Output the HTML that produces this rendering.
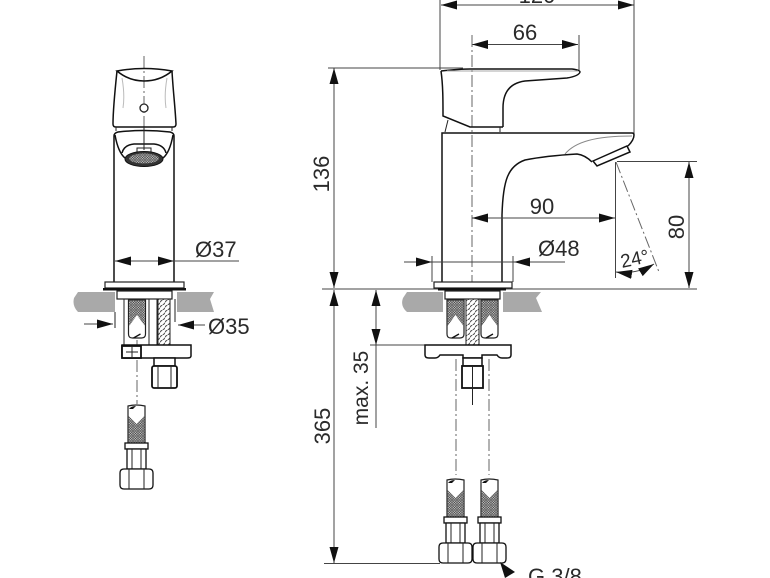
<!DOCTYPE html>
<html><head><meta charset="utf-8">
<style>
html,body{margin:0;padding:0;background:#fff;width:770px;height:578px;overflow:hidden}
svg{display:block;filter:blur(.3px)}
text{font-family:"Liberation Sans",sans-serif;font-size:22px;fill:#2a2a2a}
.d{stroke:#444;stroke-width:1;fill:none}
.k{stroke:#111;stroke-width:1.5;fill:none}
.kf{stroke:#111;stroke-width:1.3;fill:#fff}
.t{stroke:#222;stroke-width:1;fill:none}
.c{stroke:#666;stroke-width:1;fill:none;stroke-dasharray:12 3 2 3}
.g{fill:#a9a9a9}
</style></head><body>
<svg width="770" height="578" viewBox="0 0 770 578" xmlns="http://www.w3.org/2000/svg">
<defs>
<marker id="a" markerUnits="userSpaceOnUse" markerWidth="17" markerHeight="10" refX="16" refY="4.500" orient="auto-start-reverse"><path d="M0 0L16 4.500L0 9Z" fill="#111"/></marker>
<pattern id="x" width="2.500" height="2.500" patternUnits="userSpaceOnUse"><rect width="2.500" height="2.500" fill="#c4c4c4"/><path d="M0 0L2.500 2.500M2.500 0L0 2.500" stroke="#444" stroke-width=".6"/></pattern>
<pattern id="h" width="5" height="5" patternUnits="userSpaceOnUse"><rect width="5" height="5" fill="#fff"/><path d="M-1 3L3 -1M2 6L6 2" stroke="#555" stroke-width="1.100"/></pattern>
<g id="hoseLow">
<path d="M0 0Q8 -2 17 0V37H0Z" fill="#fff" stroke="#222" stroke-width="1.200"/>
<path d="M0.600 37V10L8.500 18L16.400 10V37Z" fill="url(#x)"/>
<path d="M1 3Q3 0 8 0L5 3H1Z" fill="#111"/>
<rect x="-3" y="37" width="23" height="6" class="kf"/>
<rect x="-1" y="43" width="19" height="20" class="kf"/>
<path d="M4 43V63M13 43V63" class="t"/>
<path d="M-8 67Q-8 63 -4 63H21Q25 63 25 67V79Q25 83 21 83H-4Q-8 83 -8 79Z" class="kf"/>
<path d="M1 63V83M16 63V83" class="t"/>
</g>
<g id="hoseUp">
<path d="M0 0H17V34Q17 38 13 38H4Q0 38 0 34Z" fill="#fff" stroke="#222" stroke-width="1.200"/>
<path d="M0.600 0.600H16.400V26L8.500 15L0.600 26Z" fill="url(#x)"/>
<path d="M5 38L12 34" stroke="#111" stroke-width="1.300"/>
</g>
</defs>

<!-- LEFT VIEW -->
<path class="c" d="M144 56V126"/>
<path class="c" d="M137 340V404" />
<path class="k" d="M117 71C115 90 113 110 113 124Q113 127 116 127H173Q176 127 176 124C175 105 173 90 172 71"/>
<path class="k" d="M117 71Q144 66 172 71Q160 81 144 81Q129 81 117 71Z"/>
<path d="M122 78Q125 95 123 108M167 78Q164 95 166 108" stroke="#bbb" stroke-width="1" fill="none"/>
<circle cx="144" cy="108" r="4" fill="#fff" stroke="#222" stroke-width="1.300"/>
<path class="t" d="M116 127V131M172 127V131"/>
<path class="k" d="M114 282V136Q114 133 118 132Q144 129 170 132Q174 133 174 136V282"/>
<path class="k" d="M115 135C117 146 120 154 125 158M173 135C171 146 168 154 163 158"/>
<path class="k" d="M122 153Q124 145 134 144H154Q164 145 166 153"/>
<rect x="137" y="148" width="14" height="4" fill="#fff" stroke="#222"/>
<ellipse cx="144" cy="159" rx="19" ry="7.500" fill="#333" stroke="#111"/>
<ellipse cx="144" cy="158.500" rx="15" ry="5" fill="url(#x)"/>
<path class="t" d="M144 126V150"/>
<path class="d" marker-start="url(#a)" marker-end="url(#a)" d="M115 261H174"/>
<path class="d" d="M174 261H239"/>
<text x="195" y="257">Ø37</text>
<rect x="105" y="282" width="79" height="6" fill="#fff" stroke="#222" stroke-width="1.200"/>
<rect x="103" y="288" width="83" height="2.500" fill="#111"/>
<path class="g" d="M78 292H115V312H78Q72 306 74 298Z"/>
<path class="g" d="M177 292H214L210 299L214 312H177Z"/>
<rect x="117" y="291" width="55" height="8" fill="#fff" stroke="#222" stroke-width="1.200"/>
<path class="t" d="M115 312V328M124 299V345M149 299V345M175 299V322M157 299V345"/>
<use href="#hoseUp" x="128.500" y="300"/>
<rect x="158" y="299" width="12" height="46" fill="url(#h)" stroke="#222"/>
<path d="M122 345H191V356Q191 358 187 358H124Q122 358 122 356Z" fill="#fff" stroke="#111" stroke-width="1.500"/>
<rect x="122" y="346" width="19" height="12" fill="#fff" stroke="#111" stroke-width="1.800"/>
<path class="t" d="M126 352H138M132 346V358"/>
<rect x="154" y="358" width="21" height="8" fill="#fff" stroke="#111" stroke-width="1.500"/>
<rect x="152" y="366" width="25" height="22" rx="2" fill="#fff" stroke="#111" stroke-width="1.800"/>
<path class="t" d="M158 366V388M171 366V388"/>
<path class="d" marker-end="url(#a)" d="M84 324H113"/>
<path class="d" marker-end="url(#a)" d="M205 325H178"/>
<text x="208" y="334">Ø35</text>
<use href="#hoseLow" x="128" y="406"/>

<!-- RIGHT VIEW dims -->
<path class="d" d="M440 0V70M634 0V134M579 35V70"/>
<path class="d" marker-start="url(#a)" marker-end="url(#a)" d="M441 5H634"/>
<text x="537" y="3" text-anchor="middle">120</text>
<path class="d" marker-start="url(#a)" marker-end="url(#a)" d="M472 44.500H578"/>
<text x="525" y="40" text-anchor="middle">66</text>
<path class="c" d="M472 35V288"/>
<path class="d" d="M328 68H463"/>
<path class="d" marker-start="url(#a)" marker-end="url(#a)" d="M334 68V288"/>
<text transform="translate(329,174) rotate(-90)" text-anchor="middle">136</text>
<path class="d" d="M322 289H697"/>
<path class="d" marker-start="url(#a)" marker-end="url(#a)" d="M334 290V563"/>
<text transform="translate(330,426) rotate(-90)" text-anchor="middle">365</text>
<path class="d" d="M324 563.500H440"/>
<path class="d" marker-start="url(#a)" marker-end="url(#a)" d="M376 290V345"/>
<path class="d" d="M370 345H425M376 345V428"/>
<text transform="translate(368,388) rotate(-90)" text-anchor="middle" style="font-size:21px">max. 35</text>

<!-- handle -->
<path class="k" d="M441 71Q460 69 470 69H572Q580 70 580 72Q579 76 567 78L525 81C510 83 503 92 503 108V127"/>
<path class="k" d="M441 71C443 85 443 100 443 116L470 127H503"/>
<path d="M447 71H578" stroke="#aaa" stroke-width="1" fill="none"/>
<path class="t" d="M448 120L445 132M500 127V132"/>
<!-- body -->
<path class="k" d="M442 282V133H632Q634 133 634 135Q634 140 628 146"/>
<path d="M565 154C575 142 595 136 632 136" stroke="#888" stroke-width="1" fill="none"/>
<path class="k" d="M502 282V215C503 180 508 166 525 160C540 157 560 155 577 154Q585 155 592 162"/>
<path d="M593 161L627 146L630 152L597 166Z" fill="#fff" stroke="#111" stroke-width="1.500"/>
<path class="d" d="M617 161.500H697M615.500 162V278"/>
<path class="d" marker-start="url(#a)" marker-end="url(#a)" d="M689 162V288"/>
<text transform="translate(684,227) rotate(-90)" text-anchor="middle">80</text>
<path class="d" marker-start="url(#a)" marker-end="url(#a)" d="M472 218H615"/>
<text x="542" y="214" text-anchor="middle">90</text>
<path class="c" d="M616 162L659 272"/>
<path class="d" marker-start="url(#a)" marker-end="url(#a)" d="M616 272Q636 275 654 264"/>
<text transform="translate(622,268) rotate(-12)" style="font-size:19px">24°</text>
<path class="d" d="M432 256V282M513 256V282M404 262H565"/>
<path class="d" marker-end="url(#a)" d="M404 262H432"/>
<path class="d" marker-end="url(#a)" d="M540 262H514"/>
<text x="538" y="256">Ø48</text>

<!-- base -->
<rect x="434" y="282" width="78" height="6" fill="#fff" stroke="#222" stroke-width="1.200"/>
<rect x="438" y="288" width="68" height="2.500" fill="#111"/>
<path class="g" d="M407 292H443V312H407Q400 306 403 298Z"/>
<path class="g" d="M503 292H541L536 298L542 312H503Z"/>
<rect x="445" y="291" width="55" height="8" fill="#fff" stroke="#222" stroke-width="1.200"/>
<use href="#hoseUp" x="447" y="300"/>
<use href="#hoseUp" x="481" y="300"/>
<rect x="466" y="299" width="13" height="46" fill="url(#h)" stroke="#222"/>
<path d="M425 345H511V355Q511 358 507 358H502Q499 358 497 355H482V358H463V355H440Q438 358 435 358H429Q425 358 425 355Z" fill="#fff" stroke="#111" stroke-width="1.500"/>
<rect x="463" y="358" width="19" height="8" fill="#fff" stroke="#111" stroke-width="1.500"/>
<rect x="462" y="366" width="21" height="22" fill="#fff" stroke="#111" stroke-width="1.800"/>
<path class="t" d="M472.500 366V405"/>
<path class="c" d="M456 359V475M489 359V475"/>
<use href="#hoseLow" x="447" y="480"/>
<use href="#hoseLow" x="481" y="480"/>
<path d="M500 562L515 572L505 578Z" fill="#111"/>
<text x="528" y="584">G 3/8</text>
</svg>
</body></html>
